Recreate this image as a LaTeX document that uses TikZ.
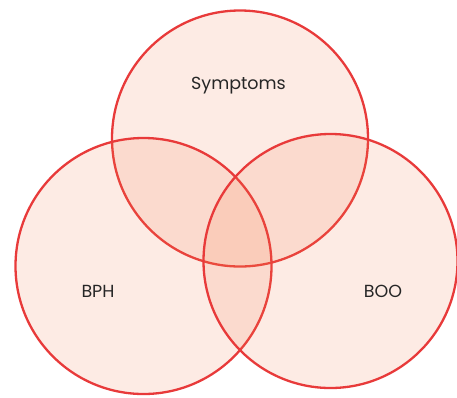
\documentclass[tikz,border=0pt]{standalone}
\usepackage{fontspec}
\setmainfont{Poppins}
\definecolor{vennfill}{RGB}{242,122,75}
\definecolor{vennline}{RGB}{232,58,58}
\tikzset{
  venncircle/.style={draw=vennline, line width=2.3pt, fill=vennfill, fill opacity=0.15},
  vennlabel/.style={text=black!85, font=\fontsize{17.5}{19}\selectfont, inner sep=0pt}
}

\begin{document}
\begin{tikzpicture}[x=1pt, y=-1pt]
\useasboundingbox (0,0) rectangle (457,397);
\draw[venncircle] (240,138.5) circle (128);
\draw[venncircle] (143.5,266) circle (128);
\draw[venncircle] (330.5,261) circle (127);
\node[vennlabel] (symptoms) at (238.5,86) {Symptoms};
\node[vennlabel] (bph) at (98,291) {BPH};
\node[vennlabel] (boo) at (383,291) {BOO};
\end{tikzpicture}
\end{document}
